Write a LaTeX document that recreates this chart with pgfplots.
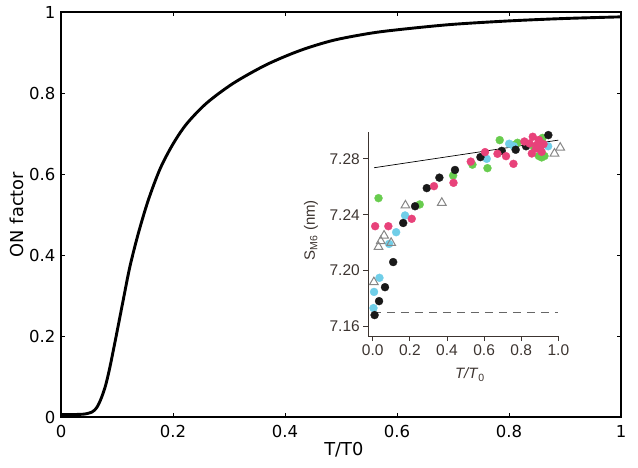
\documentclass[border=0pt]{standalone}
\usepackage{fontspec}
\setmainfont{DejaVu Sans}
\newfontfamily\insetfont{Liberation Sans}
\usepackage{pgfplots}
\pgfplotsset{compat=1.18}
\definecolor{insettext}{RGB}{60,52,48}
\definecolor{ptblack}{RGB}{25,25,25}
\definecolor{ptgreen}{RGB}{104,204,78}
\definecolor{ptcyan}{RGB}{112,206,232}
\definecolor{ptpink}{RGB}{232,66,122}
\definecolor{trigray}{RGB}{135,135,135}
\begin{document}
\begin{tikzpicture}
\path[use as bounding box] (-61pt,-50pt) rectangle (577pt,417pt);
\begin{axis}[
  at={(0pt,0pt)}, anchor=south west,
  scale only axis, width=560pt, height=405pt,
  xmin=0, xmax=1, ymin=0, ymax=1,
  xtick={0,0.2,0.4,0.6,0.8,1}, ytick={0,0.2,0.4,0.6,0.8,1},
  xticklabels={0,0.2,0.4,0.6,0.8,1}, yticklabels={0,0.2,0.4,0.6,0.8,1},
  tick align=inside, major tick length=4pt,
  axis line style={line width=1.2pt},
  every tick/.style={line width=0.9pt, black},
  ticklabel style={font=\fontsize{16.5}{18}\selectfont},
  xticklabel style={yshift=-4.5pt},
  yticklabel style={xshift=-2pt},
  xlabel={T/T0}, ylabel={ON factor},
  label style={font=\fontsize{17.8}{20}\selectfont},
  xlabel style={at={(axis description cs:0.505,-0.0815)}, anchor=center},
  ylabel style={at={(axis description cs:-0.079,0.50)}, anchor=center},
]
\addplot[black, line width=2.9pt, smooth, line join=round] coordinates {
(0,0.006) (0.02,0.006) (0.04,0.007) (0.048,0.009) (0.055,0.012) (0.06,0.017)
(0.065,0.026) (0.07,0.040) (0.075,0.058) (0.08,0.080) (0.0875,0.124)
(0.0994,0.206) (0.111,0.288) (0.123,0.371) (0.138,0.453) (0.156,0.536)
(0.177,0.613) (0.2,0.674) (0.2245,0.724) (0.26,0.775) (0.3077,0.824)
(0.367,0.870) (0.427,0.905) (0.486,0.930) (0.55,0.947) (0.6,0.956)
(0.695,0.969) (0.8,0.978) (0.9,0.984) (1.0,0.988)
};
\end{axis}
\begin{axis}[
  at={(307.3pt,81pt)}, anchor=south west,
  scale only axis, width=191pt, height=203.7pt,
  xmin=-0.024, xmax=1.005, ymin=7.153, ymax=7.299,
  axis lines=left, axis line style={-, line width=0.8pt, color=insettext},
  clip=false,
  xtick={0,0.2,0.4,0.6,0.8,1}, xticklabels={0.0,0.2,0.4,0.6,0.8,1.0},
  ytick={7.16,7.20,7.24,7.28}, yticklabels={7.16,7.20,7.24,7.28},
  tick align=outside, major tick length=5pt,
  every tick/.style={line width=0.8pt, insettext},
  ticklabel style={font=\insetfont\fontsize{15.5}{17}\selectfont, text=insettext},
  xlabel={\textit{T/T}\textsubscript{0}},
  ylabel={S\textsubscript{M6} (nm)},
  label style={font=\insetfont\fontsize{15}{17}\selectfont, text=insettext},
  xlabel style={at={(axis description cs:0.532,-0.19)}, anchor=center},
  ylabel style={at={(axis description cs:-0.30,0.52)}, anchor=center},
]
\addplot[gray!80!black, line width=1pt, dash pattern=on 8pt off 6pt] coordinates {(0,7.17) (1.0,7.17)};
\addplot[black, line width=0.7pt] coordinates {(0.007,7.2736) (1.0,7.2934)};
\addplot[only marks, color=ptgreen, mark=*, mark size=4pt, mark options={draw=ptgreen, fill=ptgreen, line width=0.3pt}] coordinates {
(0.031,7.2518) (0.253,7.2473) (0.433,7.268) (0.537,7.2758) (0.618,7.2733)
(0.684,7.2934) (0.765,7.290) (0.78,7.2915) (0.87,7.288) (0.895,7.282)
(0.91,7.281) (0.925,7.282) (0.915,7.295)
};
\addplot[only marks, color=ptcyan, mark=*, mark size=4pt, mark options={draw=ptcyan, fill=ptcyan, line width=0.3pt}] coordinates {
(0.004,7.173) (0.007,7.1846) (0.036,7.1947) (0.088,7.219) (0.126,7.2274)
(0.174,7.2394) (0.614,7.280) (0.735,7.2908) (0.76,7.289) (0.90,7.287) (0.945,7.289)
};
\addplot[only marks, color=ptblack, mark=*, mark size=4pt, mark options={draw=ptblack, fill=ptblack, line width=0.3pt}] coordinates {
(0.010,7.168) (0.034,7.178) (0.066,7.188) (0.110,7.206) (0.164,7.234)
(0.228,7.246) (0.291,7.259) (0.359,7.2665) (0.443,7.272) (0.580,7.2812)
(0.695,7.2857) (0.770,7.2865) (0.826,7.289) (0.946,7.297)
};
\addplot[only marks, color=ptpink, mark=*, mark size=4pt, mark options={draw=ptpink, fill=ptpink, line width=0.3pt}] coordinates {
(0.013,7.2317) (0.084,7.2317) (0.21,7.237) (0.33,7.2604) (0.435,7.2628)
(0.528,7.278) (0.605,7.2848) (0.672,7.2836) (0.718,7.2819) (0.758,7.2764)
(0.817,7.2924) (0.857,7.2838) (0.862,7.2958) (0.884,7.290) (0.895,7.2935)
(0.90,7.287) (0.91,7.285) (0.88,7.2875) (0.845,7.291) (0.92,7.2905)
};
\addplot[only marks, color=trigray, mark=triangle, mark size=5pt, mark options={draw=trigray, line width=1pt, fill=none}] coordinates {
(0.006,7.1916) (0.031,7.2169) (0.043,7.221) (0.061,7.225) (0.099,7.2198)
(0.176,7.2466) (0.372,7.2485) (0.979,7.2838) (1.010,7.288)
};
\end{axis}
\end{tikzpicture}
\end{document}
